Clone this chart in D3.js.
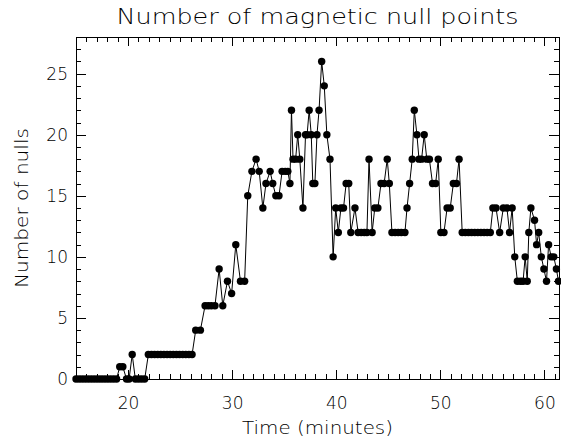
<!DOCTYPE html>
<html>
<head>
<meta charset="utf-8">
<script src="https://cdn.jsdelivr.net/npm/d3@7"></script>
<style>
	body { margin: 0; background: #fff; }
	text { font-family: "DejaVu Sans", sans-serif; font-weight: 200; fill: #000; }
</style>
</head>
<body>
<div id="chart"></div>
<script>
// sample times (minutes) and null counts
var times = [
	15.0, 15.3, 15.6, 15.9, 16.2, 16.5, 16.8, 17.1, 17.4, 17.7, 18.0, 18.3, 18.6, 18.9,
	19.2, 19.5, 19.85, 20.1, 20.4, 20.7, 21.0, 21.3, 21.6,
	21.95, 22.25, 22.55, 22.85, 23.15, 23.45, 23.75, 24.05, 24.35, 24.65, 24.95, 25.25, 25.55, 25.85, 26.15,
	26.5, 26.95, 27.4, 27.7, 28.0, 28.35, 28.75, 29.1, 29.55, 29.95, 30.35, 30.8, 31.2,
	31.5, 31.9, 32.3, 32.6, 32.95, 33.25, 33.65, 33.9, 34.2, 34.5, 34.8, 35.1, 35.35, 35.55,
	35.7, 35.85, 36.1, 36.3, 36.5, 36.8, 37.05, 37.2, 37.4, 37.6, 37.75, 37.95, 38.15, 38.35,
	38.6, 38.85, 39.1, 39.4, 39.7, 39.95, 40.2, 40.45, 40.7, 40.95, 41.2, 41.4, 41.8,
	42.1, 42.4, 42.7, 42.95, 43.15, 43.45, 43.7, 44.0, 44.3, 44.6, 44.9, 45.1,
	45.35, 45.65, 45.95, 46.25, 46.6, 46.8, 47.05, 47.3, 47.5, 47.75, 47.95, 48.2, 48.45,
	48.7, 48.95, 49.25, 49.55, 49.8, 50.05, 50.35, 50.65, 50.95, 51.25, 51.55, 51.8,
	52.1, 52.4, 52.7, 53.0, 53.3, 53.6, 53.9, 54.2, 54.5, 54.8,
	55.05, 55.35, 55.7, 56.05, 56.4, 56.65, 56.9, 57.15, 57.4, 57.7, 57.95,
	58.15, 58.35, 58.5, 58.7, 59.05, 59.25, 59.45, 59.7, 59.95, 60.2, 60.4, 60.65, 60.9, 61.15, 61.35
];
var nulls = [
	0, 0, 0, 0, 0, 0, 0, 0, 0, 0, 0, 0, 0, 0,
	1, 1, 0, 0, 2, 0, 0, 0, 0,
	2, 2, 2, 2, 2, 2, 2, 2, 2, 2, 2, 2, 2, 2, 2,
	4, 4, 6, 6, 6, 6, 9, 6, 8, 7, 11, 8, 8,
	15, 17, 18, 17, 14, 16, 17, 16, 15, 15, 17, 17, 17, 16,
	22, 18, 18, 20, 18, 14, 20, 20, 22, 20, 16, 16, 20, 22,
	26, 24, 20, 18, 10, 14, 12, 14, 14, 16, 16, 12, 14,
	12, 12, 12, 12, 18, 12, 14, 14, 16, 16, 18, 16,
	12, 12, 12, 12, 12, 14, 16, 18, 22, 20, 18, 18, 20,
	18, 18, 16, 16, 18, 12, 12, 14, 14, 16, 16, 18,
	12, 12, 12, 12, 12, 12, 12, 12, 12, 12,
	14, 14, 12, 14, 14, 12, 14, 10, 8, 8, 8,
	10, 8, 12, 14, 13, 11, 12, 10, 9, 8, 11, 10, 10, 9, 8
];
var xTicks = [20, 30, 40, 50, 60];
var yTicks = [0, 5, 10, 15, 20, 25];

var title = "Number of magnetic null points",
	xTitle = "Time (minutes)",
	yTitle = "Number of nulls";

var width = 561,
	height = 441;
var box = {left: 76, right: 559, top: 37, bottom: 379};

var x = d3.scaleLinear().domain([15, 61.4]).range([box.left, box.right]);
var y = d3.scaleLinear().domain([0, 28]).range([box.bottom, box.top]);

var svg = d3.select("#chart")
	.append("svg")
		.attr("width", width)
		.attr("height", height);

// minor ticks every minute / every null
var xMinor = d3.range(15, 62, 1).filter(function(d) { return d % 10 !== 0; });
var yMinor = d3.range(0, 29, 1).filter(function(d) { return d % 5 !== 0; });

function axisGroup(axis, tx, ty) {
	var g = svg.append("g")
			.attr("transform", "translate(" + tx + "," + ty + ")")
			.call(axis);
	g.select(".domain").remove();
	g.selectAll("line")
			.attr("stroke", "#000")
			.attr("shape-rendering", "crispEdges");
	return g;
}

var xb = axisGroup(d3.axisBottom(x).tickValues(xTicks).tickSize(-9).tickPadding(18), 0, box.bottom);
xb.selectAll("text")
		.attr("font-size", 17)
		.attr("font-family", null);
axisGroup(d3.axisBottom(x).tickValues(xMinor).tickSize(-5).tickFormat(""), 0, box.bottom);
axisGroup(d3.axisTop(x).tickValues(xTicks).tickSize(-9).tickFormat(""), 0, box.top);
axisGroup(d3.axisTop(x).tickValues(xMinor).tickSize(-5).tickFormat(""), 0, box.top);

var yl = axisGroup(d3.axisLeft(y).tickValues(yTicks).tickSize(-10).tickPadding(8), box.left, 0);
yl.selectAll("text")
		.attr("font-size", 17)
		.attr("font-family", null);
axisGroup(d3.axisLeft(y).tickValues(yMinor).tickSize(-5).tickFormat(""), box.left, 0);
axisGroup(d3.axisRight(y).tickValues(yTicks).tickSize(-10).tickFormat(""), box.right, 0);
axisGroup(d3.axisRight(y).tickValues(yMinor).tickSize(-5).tickFormat(""), box.right, 0);

svg.append("rect")
		.attr("x", box.left + 0.5)
		.attr("y", box.top + 0.5)
		.attr("width", box.right - box.left)
		.attr("height", box.bottom - box.top)
		.attr("fill", "none")
		.attr("stroke", "#000");

var points = times.map(function(t, i) { return {t: t, v: nulls[i]}; });

var line = d3.line()
	.x(function(d) { return x(d.t); })
	.y(function(d) { return y(d.v); });

svg.append("path")
		.datum(points)
		.attr("d", line)
		.attr("fill", "none")
		.attr("stroke", "#000")
		.attr("stroke-width", 1);

svg.append("g")
	.selectAll("circle")
	.data(points)
	.enter().append("circle")
		.attr("cx", function(d) { return x(d.t); })
		.attr("cy", function(d) { return y(d.v); })
		.attr("r", 3.7)
		.attr("fill", "#000");

// titles
svg.append("text")
		.attr("x", (box.left + box.right) / 2)
		.attr("y", 24)
		.attr("text-anchor", "middle")
		.attr("font-size", 22)
		.attr("textLength", 402)
		.attr("lengthAdjust", "spacingAndGlyphs")
		.text(title);

svg.append("text")
		.attr("x", (box.left + box.right) / 2)
		.attr("y", 434)
		.attr("text-anchor", "middle")
		.attr("font-size", 18)
		.attr("textLength", 151)
		.attr("lengthAdjust", "spacingAndGlyphs")
		.text(xTitle);

svg.append("text")
		.attr("transform", "translate(28," + ((box.top + box.bottom) / 2) + ") rotate(-90)")
		.attr("text-anchor", "middle")
		.attr("font-size", 18)
		.attr("textLength", 160)
		.attr("lengthAdjust", "spacingAndGlyphs")
		.text(yTitle);
</script>
</body>
</html>
